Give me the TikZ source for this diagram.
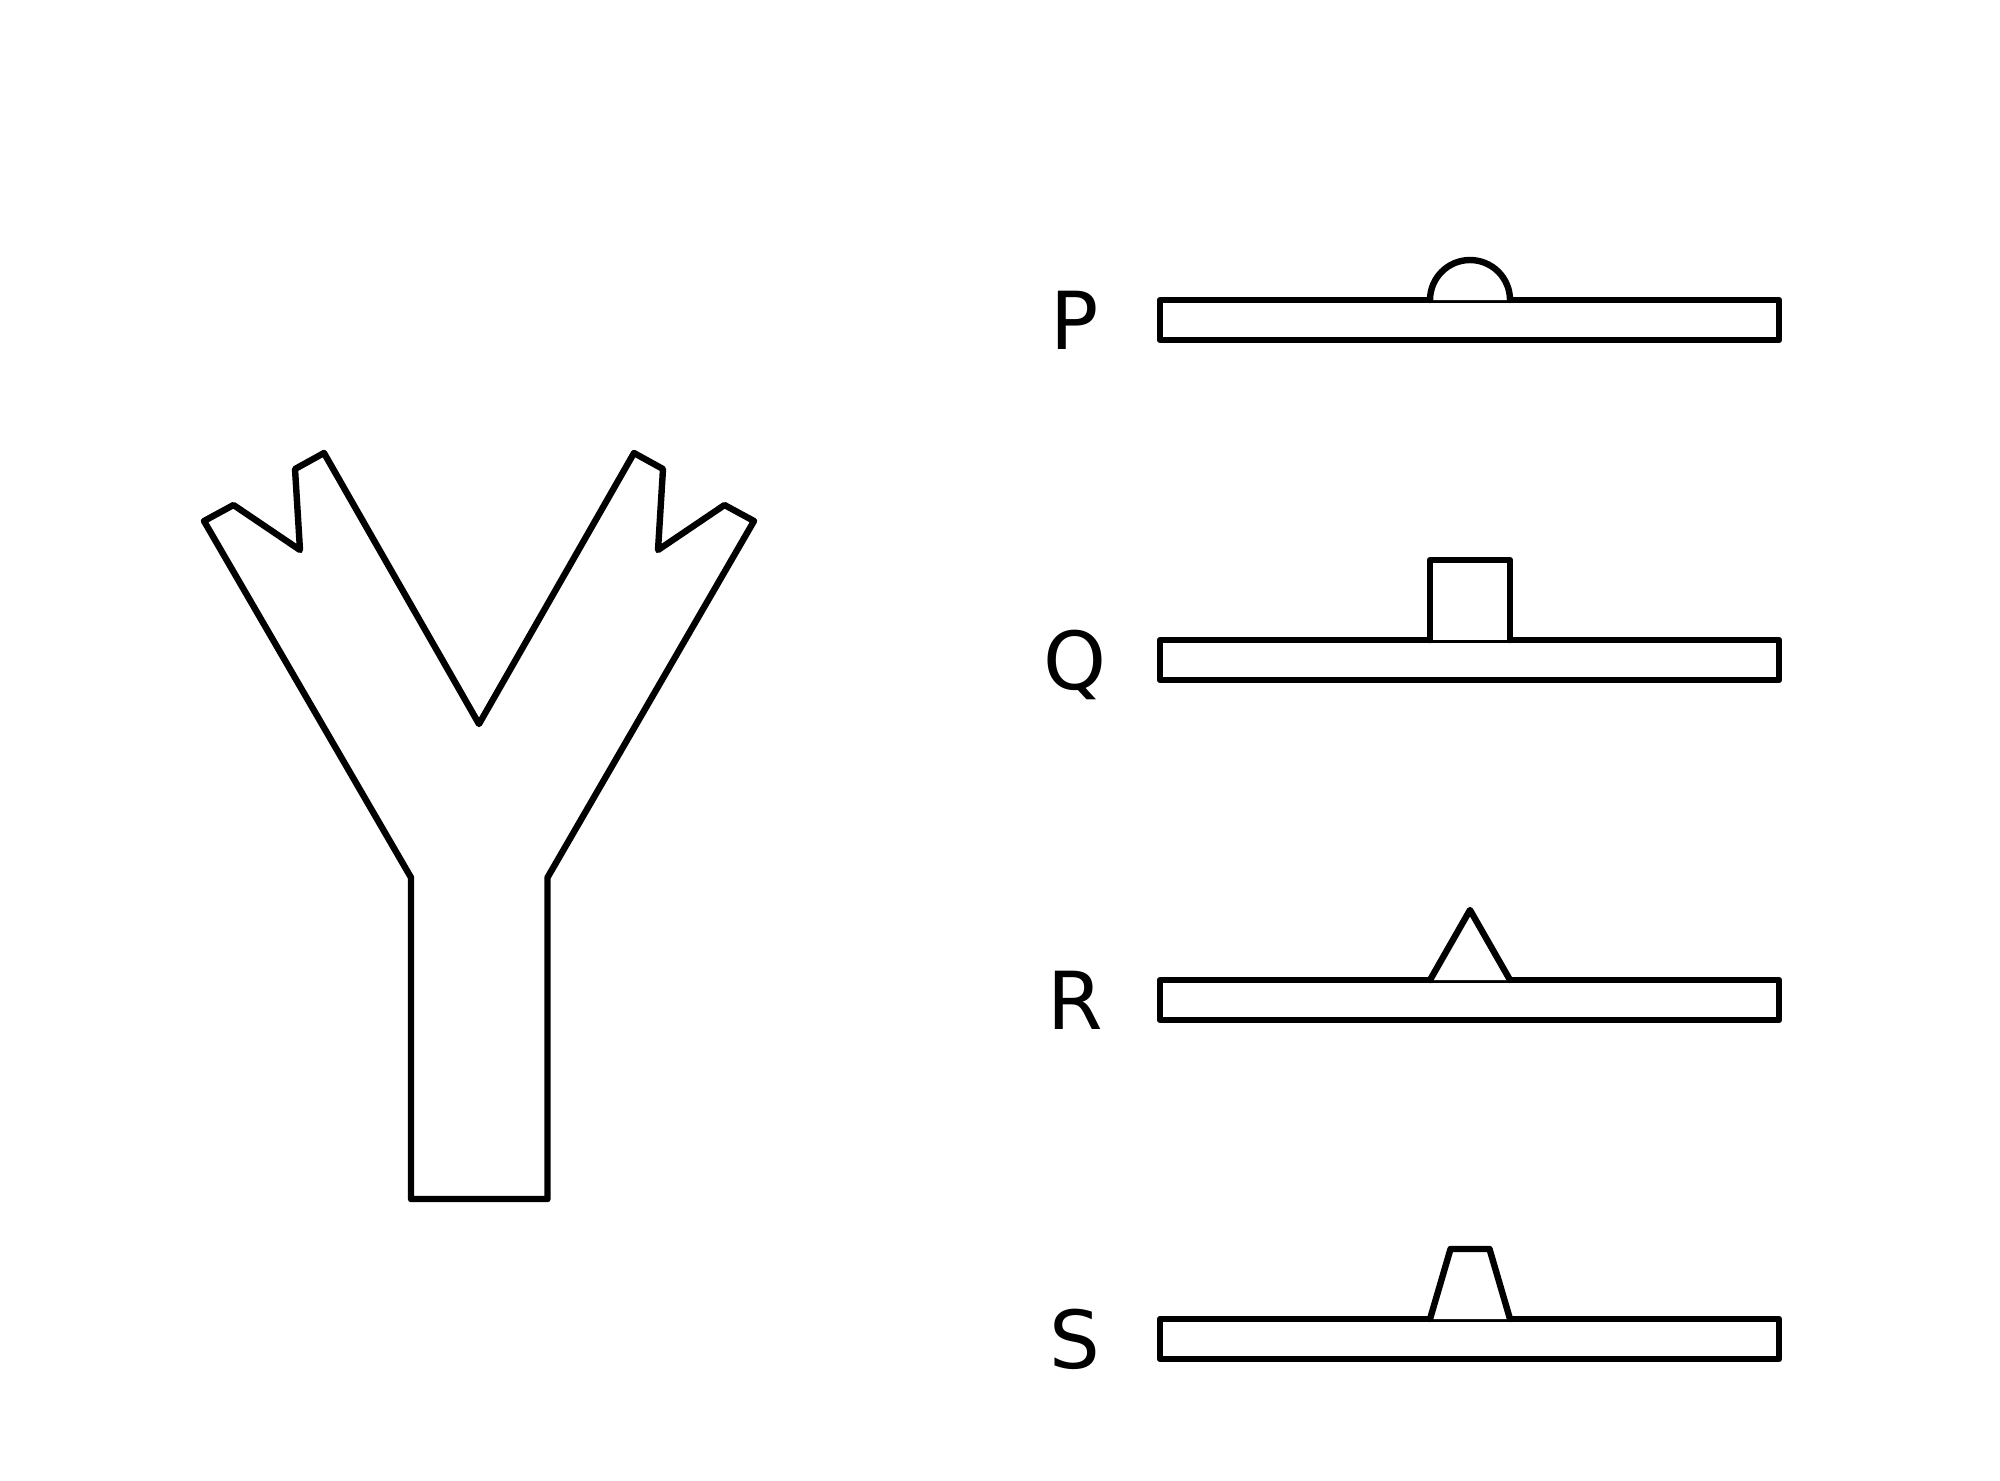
\documentclass[tikz,border=0pt]{standalone}
\usepackage{fontspec}
\setmainfont{DejaVu Sans}
\begin{document}
\begin{tikzpicture}[x=0.5pt,y=-0.5pt,
  outl/.style={line width=3.2pt,line join=round,line cap=round},
  lbl/.style={font=\fontsize{40}{40}\selectfont,anchor=base,inner sep=0pt}]
\useasboundingbox (0,0) rectangle (2000,1480);
% Y shape
\draw[outl] (204,521) -- (233.5,505) -- (300,550) -- (295,469) -- (324,453)
  -- (479,724) -- (634,453) -- (663,469) -- (658,550) -- (724.5,505) -- (754,521)
  -- (547.5,877.5) -- (547.5,1199) -- (411,1199) -- (411,877.5) -- cycle;
% P bar
\draw[outl] (1160,300) rectangle (1779,340);
\fill[white] (1430,300) arc[start angle=180,end angle=360,radius=40] -- cycle;
\draw[outl] (1430,300) arc[start angle=180,end angle=360,radius=40];
\node[lbl] (P) at (1075,349) {P};
% Q bar
\draw[outl] (1160,640) rectangle (1779,680);
\fill[white] (1430,640) -- (1430,560) -- (1510,560) -- (1510,640) -- cycle;
\draw[outl] (1430,640) -- (1430,560) -- (1510,560) -- (1510,640);
\node[lbl] (Q) at (1075,689) {Q};
% R bar
\draw[outl] (1160,980) rectangle (1779,1020);
\fill[white] (1430,980) -- (1470,910) -- (1510,980) -- cycle;
\draw[outl] (1430,980) -- (1470,910) -- (1510,980);
\node[lbl] (R) at (1075,1029) {R};
% S bar
\draw[outl] (1160,1319) rectangle (1779,1359);
\fill[white] (1430,1319) -- (1450.5,1249) -- (1489.5,1249) -- (1510,1319) -- cycle;
\draw[outl] (1430,1319) -- (1450.5,1249) -- (1489.5,1249) -- (1510,1319);
\node[lbl] (S) at (1075,1368) {S};
\end{tikzpicture}
\end{document}
